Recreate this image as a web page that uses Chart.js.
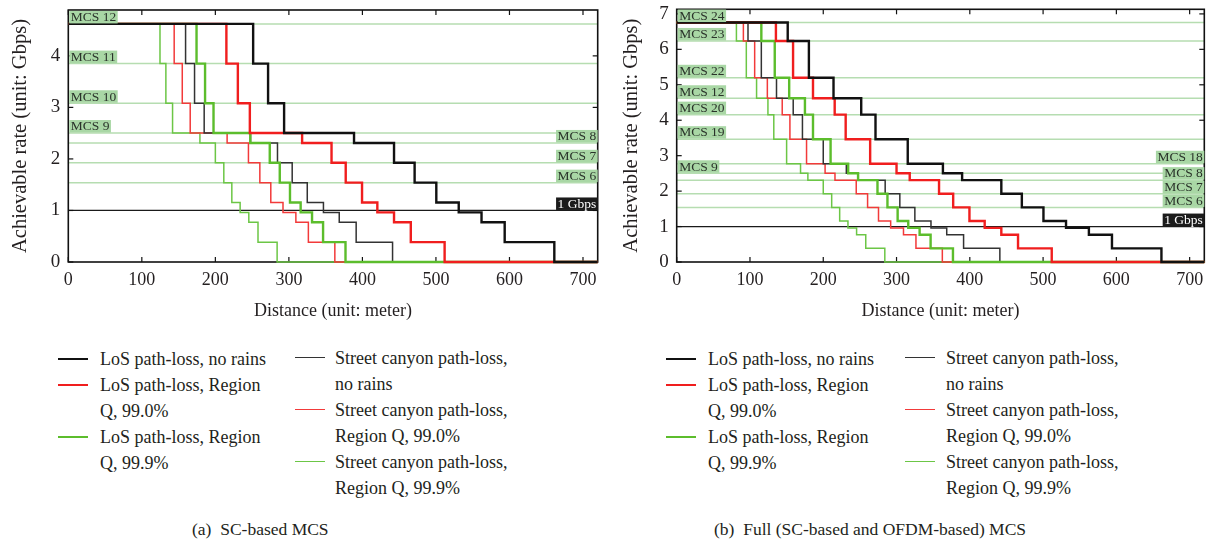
<!DOCTYPE html>
<html>
<head>
<meta charset="utf-8">
<script src="https://cdn.jsdelivr.net/npm/chart.js@4.4.0/dist/chart.umd.min.js"></script>
<style>
body{margin:0;background:#fff;width:1215px;height:543px;position:relative;overflow:hidden;font-family:'Liberation Serif','Times New Roman',serif;color:#231f20}
canvas{position:absolute;top:0}
.lg{position:absolute;font-size:18px;line-height:26px;white-space:nowrap}
.sw{position:absolute;width:30px;height:0}
.cap{position:absolute;font-size:17.5px;line-height:22px;top:518px;white-space:pre}
</style>
</head>
<body>
<canvas id="ca" width="608" height="330" style="left:0"></canvas>
<canvas id="cb" width="607" height="330" style="left:608px"></canvas>
<div class="cap" style="left:192px">(a)  SC-based MCS</div>
<div class="cap" style="left:714px">(b)  Full (SC-based and OFDM-based) MCS</div>
<script>
// rate levels (Gbps) the curves step through
var levelsA = [4.62, 3.85, 3.08, 2.5025, 2.31, 1.925, 1.54, 1.155, 0.9625, 0.77, 0.385, 0];
var levelsB = [6.757, 6.237, 5.1975, 4.62, 4.158, 3.465, 2.772, 2.5025, 2.31, 1.925, 1.54, 1.155, 0.9625, 0.77, 0.385, 0];

// distance (m) where each level ends - (a) SC-based MCS
var aLosClear = [251.4, 271.7, 293.5, 388.6, 443, 471, 500.5, 531, 562, 593.5, 661];
var aLos990   = [215, 230.6, 246.9, 318, 358, 377.3, 399.5, 420.3, 443, 465.8, 511.8];
var aLos999   = [174.4, 186, 197.5, 247.5, 274, 287.6, 301.5, 316, 331.5, 346.5, 377];
var aScClear  = [159.5, 171.7, 184.8, 247.8, 284.5, 304.5, 325, 347, 368.5, 391.5, 441];
var aSc990    = [144, 155, 165.8, 216, 245, 260.5, 275.4, 292, 309.5, 326.5, 362.5];
var aSc999    = [124.7, 132.7, 141.8, 179, 200, 211.5, 222.4, 233.7, 245.5, 258, 284];

// (b) full MCS
var bLosClear = [151.5, 180.4, 214, 251.8, 271.3, 315.3, 363.3, 389.5, 443, 471, 500.5, 531.3, 562.5, 594, 661.5];
var bLos990   = [135.4, 158.8, 186, 215.6, 230.6, 264, 300, 318, 358, 377.3, 399.5, 420.3, 443, 465.8, 511.8];
var bLos999   = [115.5, 133.8, 153.5, 175, 186, 210, 234, 247.5, 274, 287.6, 301.5, 316, 331.5, 346.5, 377];
var bScClear  = [97.3, 115.5, 136.2, 159, 171.6, 200, 231.5, 247.8, 284.5, 304.5, 325, 347, 368.5, 391.5, 441];
var bSc990    = [91, 106.4, 123.7, 144, 154.5, 177.2, 202.5, 216, 245, 260.5, 275.4, 292, 309.5, 326.5, 362.5];
var bSc999    = [81.5, 95, 109, 124.5, 132.5, 150, 169, 179, 200, 211.5, 222.4, 233.7, 245.5, 258, 284];

// MCS reference lines
var refA = [4.62, 3.85, 3.08, 2.5025, 2.31, 1.925, 1.54];
var refNamesA = ['MCS 12', 'MCS 11', 'MCS 10', 'MCS 9', 'MCS 8', 'MCS 7', 'MCS 6'];
var refSideA = ['l', 'l', 'l', 'l', 'r', 'r', 'r'];
var refB = [6.757, 6.237, 5.1975, 4.62, 4.158, 3.465, 2.772, 2.5025, 2.31, 1.925, 1.54];
var refNamesB = ['MCS 24', 'MCS 23', 'MCS 22', 'MCS 12', 'MCS 20', 'MCS 19', 'MCS 18', 'MCS 9', 'MCS 8', 'MCS 7', 'MCS 6'];
var refSideB = ['l', 'l', 'l', 'l', 'l', 'l', 'r', 'l', 'r', 'r', 'r'];
var gbpsLine = 1;

// tick labels
var xTicks = [0, 100, 200, 300, 400, 500, 600, 700];
var yTicksA = [0, 1, 2, 3, 4];
var yTicksB = [0, 1, 2, 3, 4, 5, 6, 7];

var seriesLabels = ['LoS path-loss, no rains', 'LoS path-loss, Region\nQ, 99.0%', 'LoS path-loss, Region\nQ, 99.9%',
    'Street canyon path-loss,\nno rains', 'Street canyon path-loss,\nRegion Q, 99.0%', 'Street canyon path-loss,\nRegion Q, 99.9%'];
var seriesColors = ['#111111', '#f01e1e', '#5cbd2c', '#333333', '#f23a3a', '#6cc646'];
var seriesWidths = [2.4, 2.4, 2.4, 1.5, 1.5, 1.5];

var FONT = "'Liberation Serif', 'Times New Roman', serif";
var TXT = '#231f20';

function steps(levels, ends) {
    var pts = [{x: 0, y: levels[0]}];
    for (var i = 0; i < ends.length; i++) pts.push({x: ends[i], y: levels[i + 1]});
    pts.push({x: 720, y: 0});
    return pts;
}

function seg(ctx, x1, y1, x2, y2) {
    ctx.beginPath(); ctx.moveTo(x1, y1); ctx.lineTo(x2, y2); ctx.stroke();
}

var frame = {
    id: 'frame',
    beforeDatasetsDraw: function (chart, args, o) {
        var ctx = chart.ctx, a = chart.chartArea, y = chart.scales.y, x = chart.scales.x;
        ctx.save();
        ctx.strokeStyle = '#b6ddb1'; ctx.lineWidth = 1.5;
        o.refs.forEach(function (v) { var py = y.getPixelForValue(v); seg(ctx, a.left, py, a.right, py); });
        ctx.strokeStyle = '#1a1a1a'; ctx.lineWidth = 1.3;
        var gy = y.getPixelForValue(gbpsLine);
        seg(ctx, a.left, gy, a.right, gy);
        // box + inward ticks
        ctx.lineWidth = 1.6; ctx.strokeStyle = '#111';
        ctx.strokeRect(a.left, a.top, a.right - a.left, a.bottom - a.top);
        ctx.lineWidth = 1.2;
        x.ticks.forEach(function (t) {
            var px = x.getPixelForValue(t.value);
            seg(ctx, px, a.bottom, px, a.bottom - 5); seg(ctx, px, a.top, px, a.top + 5);
        });
        y.ticks.forEach(function (t) {
            var py = y.getPixelForValue(t.value);
            seg(ctx, a.left, py, a.left + 5, py); seg(ctx, a.right, py, a.right - 5, py);
        });
        ctx.restore();
    },
    afterDatasetsDraw: function (chart, args, o) {
        var ctx = chart.ctx, a = chart.chartArea, y = chart.scales.y;
        ctx.save();
        ctx.font = '13.5px ' + FONT;
        ctx.textBaseline = 'middle';
        function box(txt, py, side, bg, fg) {
            var w = ctx.measureText(txt).width + 3;
            var bx = side === 'l' ? a.left + 1 : a.right - w;
            ctx.fillStyle = bg;
            ctx.fillRect(bx, py - 13, w, 12.5);
            ctx.fillStyle = fg;
            ctx.fillText(txt, bx + 1.5, py - 6.3);
        }
        o.refs.forEach(function (v, i) {
            box(o.names[i], y.getPixelForValue(v), o.sides[i], '#a9d7a5', '#2a332a');
        });
        box('1 Gbps', y.getPixelForValue(gbpsLine), 'r', '#1b1b1b', '#ffffff');
        ctx.restore();
    }
};

function makeChart(id, levels, curves, yMax, yTicks, refs, names, sides, pad, yWidth, titlePad) {
    var ds = curves.map(function (c, i) {
        return {
            label: seriesLabels[i].replace('\n', ' '),
            data: steps(levels, c),
            borderColor: seriesColors[i],
            borderWidth: seriesWidths[i],
            pointRadius: 0,
            stepped: true,
            fill: false,
            clip: false
        };
    });
    return new Chart(document.getElementById(id), {
        type: 'line',
        data: {datasets: ds},
        plugins: [frame],
        options: {
            responsive: false,
            animation: false,
            devicePixelRatio: 1,
            layout: {padding: pad, autoPadding: false},
            plugins: {
                legend: {display: false},
                tooltip: {enabled: false},
                frame: {refs: refs, names: names, sides: sides}
            },
            scales: {
                x: {
                    type: 'linear', min: 0, max: 720,
                    afterBuildTicks: function (s) { s.ticks = xTicks.map(function (v) { return {value: v}; }); },
                    afterFit: function (s) { s.height = 330 - 262; s.paddingLeft = 0; s.paddingRight = 0; },
                    ticks: {autoSkip: false, maxRotation: 0, padding: 7, color: TXT, font: {family: FONT, size: 18}},
                    grid: {display: false, drawTicks: false},
                    border: {display: false},
                    title: {display: true, text: 'Distance (unit: meter)', color: TXT, font: {family: FONT, size: 18}, padding: {top: 0, bottom: 8}}
                },
                y: {
                    type: 'linear', min: 0, max: yMax,
                    afterBuildTicks: function (s) { s.ticks = yTicks.map(function (v) { return {value: v}; }); },
                    afterFit: function (s) { s.width = yWidth; s.paddingTop = 0; s.paddingBottom = 0; },
                    ticks: {autoSkip: false, padding: 8, color: TXT, font: {family: FONT, size: 19}},
                    grid: {display: false, drawTicks: false},
                    border: {display: false},
                    title: {display: true, text: 'Achievable rate (unit: Gbps)', color: TXT, font: {family: FONT, size: 20.5}, padding: {top: titlePad, bottom: 0}}
                }
            }
        }
    });
}

makeChart('ca', levelsA, [aLosClear, aLos990, aLos999, aScClear, aSc990, aSc999], 4.89, yTicksA,
    refA, refNamesA, refSideA, {left: 0, top: 10, right: 10.3, bottom: 0}, 68.3, 8);
makeChart('cb', levelsB, [bLosClear, bLos990, bLos999, bScClear, bSc990, bSc999], 7.13, yTicksB,
    refB, refNamesB, refSideB, {left: 0, top: 9.3, right: 10.7, bottom: 0}, 68.7, 11);

// legends
function legend(cols) {
    cols.forEach(function (c) {
        var row = 0;
        c.items.forEach(function (i) {
            var top = c.top + row * 26;
            var sw = document.createElement('div');
            sw.className = 'sw';
            sw.style.left = c.lineX + 'px';
            sw.style.top = (top + 13 - seriesWidths[i] / 2) + 'px';
            sw.style.borderTop = seriesWidths[i] + 'px solid ' + seriesColors[i];
            document.body.appendChild(sw);
            var t = document.createElement('div');
            t.className = 'lg';
            t.style.left = c.textX + 'px';
            t.style.top = top + 'px';
            t.innerHTML = seriesLabels[i].replace('\n', '<br>');
            document.body.appendChild(t);
            row += seriesLabels[i].split('\n').length;
        });
    });
}
legend([{items: [0, 1, 2], lineX: 58, textX: 100, top: 346}, {items: [3, 4, 5], lineX: 295, textX: 335, top: 345}]);
legend([{items: [0, 1, 2], lineX: 666, textX: 708, top: 346}, {items: [3, 4, 5], lineX: 905, textX: 946, top: 345}]);
</script>
</body>
</html>
